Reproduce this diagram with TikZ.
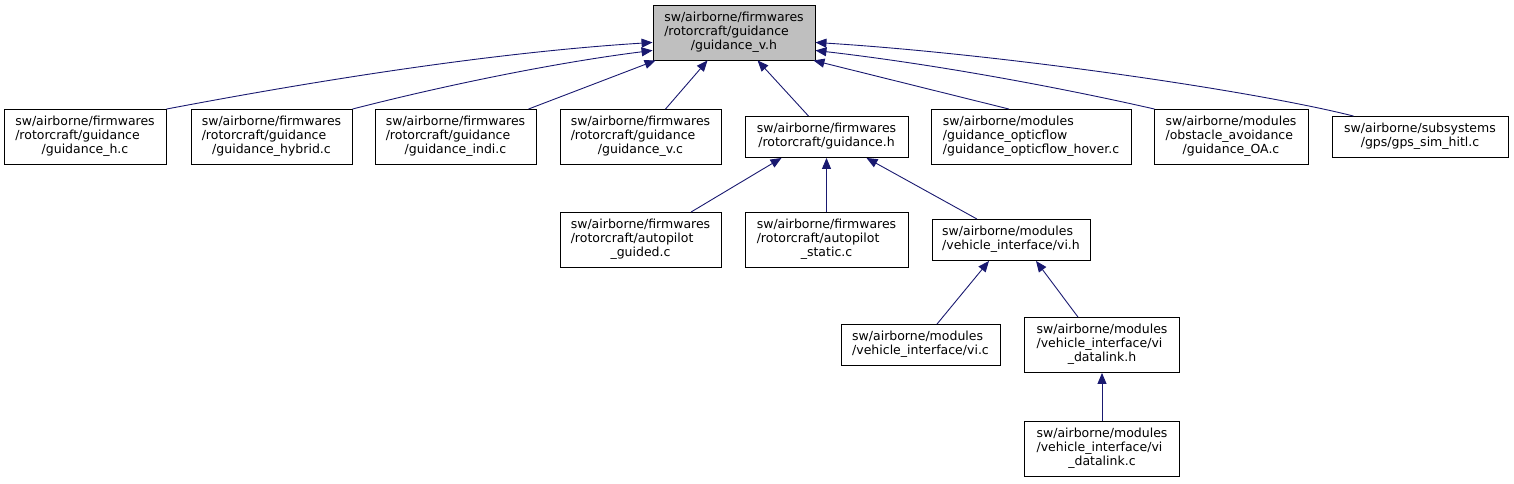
\documentclass[tikz,border=0pt]{standalone}
\usepackage{fontspec}
\setmainfont{DejaVu Sans}
\usetikzlibrary{arrows.meta,calc}
\definecolor{edgeblue}{RGB}{25,25,112}
\definecolor{topgray}{RGB}{191,191,191}
\newcommand{\tri}[3]{\begin{tabular}{@{}l@{}}#1\\#2\\\multicolumn{1}{@{}c@{}}{#3}\end{tabular}}
\newcommand{\duo}[2]{\begin{tabular}{@{}l@{}}#1\\\multicolumn{1}{@{}c@{}}{#2}\end{tabular}}
\begin{document}
\begin{tikzpicture}[x=1pt,y=-1pt,
  box/.style={draw=black, line width=0.9pt, fill=white, inner sep=0pt, minimum height=55pt, font=\fontsize{12.5}{14}\selectfont},
  boxtwo/.style={box, minimum height=41pt},
  edge/.style={draw=edgeblue, line width=0.9pt, -{Triangle[length=11pt,width=9pt]}}]
\useasboundingbox (0,0) rectangle (1514,483);

\node[box, fill=topgray, minimum width=162pt] (T) at (734,32.5) {\tri{sw/airborne/firmwares}{/rotorcraft/guidance}{/guidance\_v.h}};

\node[box, minimum width=162pt] (gh) at (85,137) {\tri{sw/airborne/firmwares}{/rotorcraft/guidance}{/guidance\_h.c}};
\node[box, minimum width=161pt] (ghy) at (271.5,137) {\tri{sw/airborne/firmwares}{/rotorcraft/guidance}{/guidance\_hybrid.c}};
\node[box, minimum width=161pt] (gi) at (455.5,137) {\tri{sw/airborne/firmwares}{/rotorcraft/guidance}{/guidance\_indi.c}};
\node[box, minimum width=161pt] (gvc) at (640.5,137) {\tri{sw/airborne/firmwares}{/rotorcraft/guidance}{/guidance\_v.c}};
\node[boxtwo, minimum width=163pt] (gH) at (826.5,137) {\duo{sw/airborne/firmwares}{/rotorcraft/guidance.h}};
\node[box, minimum width=200pt] (gof) at (1031,137) {\tri{sw/airborne/modules}{/guidance\_opticflow}{/guidance\_opticflow\_hover.c}};
\node[box, minimum width=154pt] (goa) at (1231,137) {\tri{sw/airborne/modules}{/obstacle\_avoidance}{/guidance\_OA.c}};
\node[boxtwo, minimum width=176pt] (gps) at (1420,137) {\duo{sw/airborne/subsystems}{/gps/gps\_sim\_hitl.c}};

\node[box, minimum width=161pt] (apg) at (640.5,240) {\tri{sw/airborne/firmwares}{/rotorcraft/autopilot}{\_guided.c}};
\node[box, minimum width=163pt] (aps) at (826.5,240) {\tri{sw/airborne/firmwares}{/rotorcraft/autopilot}{\_static.c}};
\node[boxtwo, minimum width=158pt] (vih) at (1011,240) {\duo{sw/airborne/modules}{/vehicle\_interface/vi.h}};

\node[boxtwo, minimum width=159pt] (vic) at (920.5,345) {\duo{sw/airborne/modules}{/vehicle\_interface/vi.c}};
\node[box, minimum width=155pt] (vidh) at (1102,345) {\tri{sw/airborne/modules}{/vehicle\_interface/vi}{\_datalink.h}};
\node[box, minimum width=155pt] (vidc) at (1102,449) {\tri{sw/airborne/modules}{/vehicle\_interface/vi}{\_datalink.c}};

\draw[edge] (gh.north east) .. controls (330,78) and (500,52) .. ($(T.south west)+(0,-18)$);
\draw[edge] (ghy.north east) .. controls (450,84) and (560,62) .. ($(T.south west)+(0,-10)$);
\draw[edge] ($(gi.north east)+(-8,0)$) -- ($(T.south west)+(3,0)$);
\draw[edge] ($(gvc.north)+(25,0)$) -- ($(T.south west)+(55,0)$);
\draw[edge] ($(gH.north)+(-18,0)$) -- ($(T.south west)+(105,0)$);
\draw[edge] ($(gof.north)+(-22,0)$) -- ($(T.south east)+(-2,0)$);
\draw[edge] ($(goa.north west)+(1,0)$) .. controls (1080,92) and (950,66) .. ($(T.south east)+(0,-10)$);
\draw[edge] ($(gps.north west)+(22,0)$) .. controls (1250,90) and (1000,54) .. ($(T.south east)+(0,-18)$);

\draw[edge] ($(apg.north)+(50.5,0)$) -- ($(gH.south)+(-45,0)$);
\draw[edge] (aps.north) -- (gH.south);
\draw[edge] ($(vih.north)+(-34,0)$) -- ($(gH.south)+(40,0)$);

\draw[edge] ($(vic.north)+(16.5,0)$) -- ($(vih.south)+(-22,0)$);
\draw[edge] ($(vidh.north)+(-24,0)$) -- ($(vih.south)+(25,0)$);
\draw[edge] (vidc.north) -- (vidh.south);
\end{tikzpicture}
\end{document}
